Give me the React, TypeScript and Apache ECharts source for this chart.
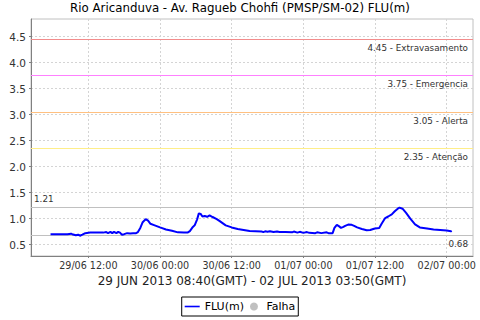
import React, { useEffect, useRef } from "react";
import * as echarts from "echarts";

// ---- data (hours since 29/06/2013 00:00 local time, FLU in m) ----
const fluHours = [
  5.67, 7.0, 8.5, 9.1, 9.3, 9.9, 10.3, 10.6, 11.0, 11.5, 12.3, 13.5, 14.5, 15.0, 15.3,
  15.7, 16.0, 16.3, 16.7, 17.0, 17.3, 17.6, 18.0, 18.5, 19.0, 19.5, 20.0, 20.3, 20.7,
  21.1, 21.6, 22.0, 22.4, 23.0, 24.0, 25.0, 26.0, 27.0, 28.0, 28.6, 29.0, 29.5, 29.8,
  30.2, 30.5, 30.8, 31.1, 31.5, 31.9, 32.3, 32.8, 33.5, 34.0, 35.0, 36.0, 37.0, 38.0,
  39.0, 40.0, 41.0, 41.3, 41.6, 42.0, 42.4, 43.0, 43.6, 44.0, 45.0, 46.1, 46.4, 47.0,
  47.4, 48.0, 48.6, 49.0, 50.0, 50.3, 51.0, 51.9, 52.2,
  52.9, 53.2, 53.6, 54.0, 54.3, 54.7, 55.0, 55.5, 56.1, 56.5, 57.0, 57.8, 58.6, 59.2,
  59.7, 60.0, 60.7, 61.1, 61.7, 62.2, 62.8, 63.3, 63.8, 64.1, 64.6, 65.2, 65.9, 66.7,
  67.5, 68.7, 69.8, 70.9, 72.0, 72.7, 72.83,
];
const fluValues = [
  0.70, 0.70, 0.70, 0.71, 0.70, 0.68, 0.69, 0.67, 0.69, 0.72, 0.73, 0.73, 0.73, 0.74, 0.72,
  0.745, 0.72, 0.745, 0.72, 0.745, 0.73, 0.69, 0.70, 0.72, 0.715, 0.72, 0.72, 0.74, 0.82,
  0.93, 0.99, 0.96, 0.90, 0.875, 0.83, 0.79, 0.765, 0.735, 0.73, 0.73, 0.76, 0.84, 0.87,
  0.98, 1.10, 1.09, 1.04, 1.05, 1.035, 1.06, 1.03, 0.99, 0.95, 0.87, 0.83, 0.80, 0.78,
  0.76, 0.755, 0.75, 0.74, 0.755, 0.745, 0.755, 0.74, 0.75, 0.74, 0.74, 0.735, 0.75, 0.73,
  0.745, 0.725, 0.74, 0.725, 0.72, 0.735, 0.72, 0.735, 0.72,
  0.72, 0.82, 0.88, 0.85, 0.82, 0.84, 0.86, 0.885, 0.88, 0.86, 0.83, 0.80, 0.775, 0.78,
  0.80, 0.81, 0.82, 0.90, 1.01, 1.04, 1.08, 1.14, 1.19, 1.21, 1.19, 1.11, 1.00, 0.89,
  0.83, 0.81, 0.79, 0.78, 0.77, 0.755, 0.765,
];

const thresholdValues = [4.45, 3.75, 3.05, 2.35];
const thresholdNames = ["Extravasamento", "Emergencia", "Alerta", "Atenção"];
const thresholdColors = ["#f28c8c", "#ff80ff", "#ffc080", "#ffee88"];
const maxValue = 1.21;
const minValue = 0.68;

const yTicks = [0.5, 1.0, 1.5, 2.0, 2.5, 3.0, 3.5, 4.0, 4.5];
const xTickHours = [12, 24, 36, 48, 60, 72];
const xTickLabels = ["29/06 12:00", "30/06 00:00", "30/06 12:00", "01/07 00:00", "01/07 12:00", "02/07 00:00"];

const titleText = "Rio Aricanduva - Av. Ragueb Chohfi (PMSP/SM-02) FLU(m)";
const xAxisTitle = "29 JUN 2013 08:40(GMT) - 02 JUL 2013 03:50(GMT)";

const FONT = "DejaVu Sans";

function refLineSeries(value: number, text: string, color: string, position: string, distance: number[]) {
  return {
    type: "line",
    data: [],
    color,
    symbol: "none",
    silent: true,
    markLine: {
      silent: true,
      symbol: ["none", "none"],
      animation: false,
      lineStyle: { color, width: 1, type: "solid", opacity: 1 },
      label: {
        show: true,
        position,
        formatter: text,
        fontFamily: FONT,
        fontSize: 8.8,
        color: "#333",
        distance,
      },
      emphasis: { disabled: true },
      data: [{ yAxis: value }],
    },
  };
}

export default function App() {
  const ref = useRef<HTMLDivElement>(null);
  useEffect(() => {
    document.body.style.margin = "0";
    if (!ref.current) return;
    const chart = echarts.init(ref.current, null, { renderer: "svg" });
    const data = fluHours.map((h, i) => [h, fluValues[i]]);

    const refSeries: any[] = thresholdValues.map((v, i) =>
      refLineSeries(v, `${v.toFixed(2)} - ${thresholdNames[i]}`, thresholdColors[i], "insideEndBottom", [5, 4])
    );
    refSeries.push(refLineSeries(maxValue, maxValue.toFixed(2), "#c0c0c0", "insideStartTop", [3, 4]));
    refSeries.push(refLineSeries(minValue, minValue.toFixed(2), "#c0c0c0", "insideEndBottom", [5, 4]));

    chart.setOption({
      animation: false,
      backgroundColor: "#ffffff",
      textStyle: { fontFamily: FONT },
      title: {
        text: titleText,
        left: "center",
        top: 2,
        padding: 0,
        textStyle: { fontFamily: FONT, fontSize: 11.8, fontWeight: "normal", color: "#000" },
      },
      legend: {
        left: "center",
        top: 297,
        padding: [4, 3, 4, 3],
        borderColor: "#000",
        borderWidth: 1,
        borderRadius: 0,
        itemGap: 6,
        itemWidth: 15,
        itemHeight: 8,
        textStyle: { fontFamily: FONT, fontSize: 11, color: "#000" },
        data: [
          { name: "FLU(m)", icon: "path://M0,3.2 L15,3.2 L15,4.8 L0,4.8 Z", itemStyle: { color: "#0000ff" } },
          { name: "Falha", icon: "circle", itemStyle: { color: "#c0c0c0" } },
        ],
      },
      grid: {
        left: 31,
        right: 7,
        top: 19,
        bottom: 64,
        show: true,
        borderColor: "#c0c0c0",
        borderWidth: 1,
        backgroundColor: "#fff",
        containLabel: false,
        outerBoundsMode: "none",
      },
      xAxis: {
        type: "value",
        min: 2.4,
        max: 76.4,
        name: xAxisTitle,
        nameLocation: "middle",
        nameGap: 18,
        nameTextStyle: { fontFamily: FONT, fontSize: 12, fontWeight: "normal", color: "#222" },
        axisLine: { show: true, lineStyle: { color: "#808080", width: 1 } },
        axisTick: { show: true, length: 2, customValues: xTickHours, lineStyle: { color: "#808080" } },
        axisLabel: {
          customValues: xTickHours,
          formatter: (v: number) => {
            const idx = xTickHours.indexOf(Math.round(v));
            return idx >= 0 ? xTickLabels[idx] : "";
          },
          fontFamily: FONT,
          fontSize: 9.6,
          color: "#333",
          margin: 4,
          hideOverlap: false,
        },
        splitLine: { show: true, lineStyle: { color: "#d4d4d4", type: [2, 2], width: 1 } },
      },
      yAxis: {
        type: "value",
        min: 0.28,
        max: 4.84,
        axisLine: { show: true, lineStyle: { color: "#808080", width: 1 } },
        axisTick: { show: true, length: 2, customValues: yTicks, lineStyle: { color: "#808080" } },
        axisLabel: {
          customValues: yTicks,
          formatter: (v: number) => v.toFixed(1),
          fontFamily: FONT,
          fontSize: 10.5,
          color: "#333",
          margin: 5,
          hideOverlap: false,
        },
        splitLine: { show: true, lineStyle: { color: "#d4d4d4", type: [2, 2], width: 1 } },
      },
      series: [
        ...refSeries,
        {
          name: "FLU(m)",
          type: "line",
          data,
          color: "#0000ff",
          symbol: "none",
          showSymbol: false,
          lineStyle: { color: "#0000ff", width: 2 },
          z: 5,
        },
        {
          name: "Falha",
          type: "line",
          data: [],
          color: "#c0c0c0",
          symbol: "circle",
          lineStyle: { color: "#c0c0c0" },
        },
      ],
    });
    return () => chart.dispose();
  }, []);
  return <div ref={ref} style={{ position: "absolute", left: 0, top: 0, width: 480, height: 320 }} />;
}
